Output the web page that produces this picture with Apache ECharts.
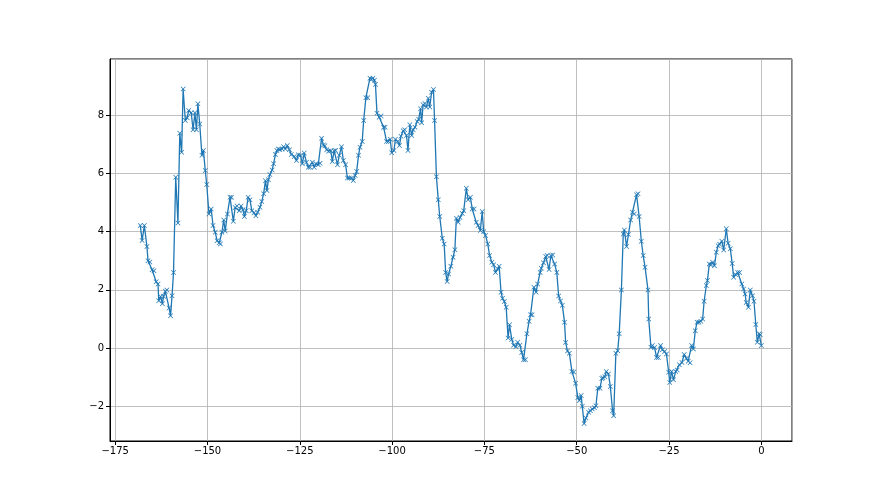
<!DOCTYPE html>
<html>
<head>
<meta charset="utf-8">
<script src="https://cdn.jsdelivr.net/npm/echarts@6/dist/echarts.min.js"></script>
<style>
html,body{margin:0;padding:0;background:#fff;}
#chart{width:880px;height:495px;}
</style>
</head>
<body>
<div id="chart"></div>
<script>
// x positions (time offsets) of the samples
const xValues = [
-168.2,-167.7,-167.1,-166.4,-166.1,-165.6,-165.0,-164.5,-163.9,-163.4,-163.2,-162.7,-162.2,-161.9,-161.4,-161.0,-160.4,-160.0,-159.6,-159.2,
-158.6,-158.0,-157.5,-157.0,-156.6,-156.0,-155.5,-155.1,-154.4,-153.9,-153.4,-153.0,-152.6,-152.1,-151.5,-151.1,-150.6,-150.2,-149.6,-149.0,
-148.5,-147.9,-147.4,-146.8,-146.5,-146.1,-145.6,-145.2,-144.6,-143.9,-143.5,-143.0,-142.5,-142.0,-141.4,-140.9,-140.4,-140.0,-139.5,-139.0,
-138.5,-138.0,-137.4,-136.9,-136.4,-135.8,-135.3,-134.8,-134.3,-133.9,-133.5,-133.1,-132.5,-132.1,-131.6,-131.2,-130.8,-130.4,-129.8,-129.4,
-128.9,-128.4,-127.8,-127.3,-126.5,-125.9,-125.4,-124.8,-124.3,-123.8,-123.2,-122.7,-122.2,-121.6,-121.1,-120.6,-120.0,-119.5,-119.1,-118.6,
-118.2,-117.7,-117.2,-116.6,-116.2,-115.7,-115.3,-114.8,-114.3,-113.7,-113.2,-112.6,-112.1,-111.6,-111.0,-110.5,-110.0,-109.6,-109.1,-108.7,
-108.1,-107.7,-107.1,-106.6,-106.0,-105.6,-105.2,-104.8,-104.5,-104.1,-103.5,-103.0,-102.3,-101.9,-101.5,-101.0,-100.5,-100.1,-99.5,-99.1,
-98.5,-98.0,-97.6,-97.0,-96.6,-96.1,-95.7,-95.2,-94.7,-94.3,-93.8,-93.2,-92.8,-92.3,-92.0,-91.6,-91.1,-90.7,-90.2,-89.8,
-89.3,-88.8,-88.5,-88.0,-87.5,-87.1,-86.4,-85.9,-85.5,-85.1,-84.7,-84.1,-83.5,-83.0,-82.6,-82.1,-81.6,-81.0,-80.6,-79.9,
-79.4,-78.8,-78.3,-77.8,-77.2,-76.7,-76.1,-75.6,-75.2,-74.7,-74.1,-73.6,-73.0,-72.5,-72.0,-71.4,-71.0,-70.5,-70.1,-69.6,
-69.1,-68.6,-68.2,-67.6,-67.1,-66.5,-66.0,-65.4,-64.9,-64.4,-63.9,-63.5,-62.9,-62.5,-62.1,-61.6,-61.0,-60.6,-59.9,-59.6,
-59.0,-58.4,-58.0,-57.5,-57.0,-56.5,-56.0,-55.4,-54.9,-54.4,-53.9,-53.3,-53.0,-52.5,-52.0,-51.3,-50.8,-50.3,-49.7,-49.3,
-48.8,-48.5,-48.0,-47.5,-46.8,-46.3,-45.8,-45.2,-44.8,-44.3,-43.7,-43.2,-42.9,-42.4,-42.0,-41.4,-40.9,-40.3,-40.0,-39.4,
-38.9,-38.5,-37.9,-37.4,-37.1,-36.5,-36.0,-35.4,-34.9,-34.4,-33.8,-33.4,-33.1,-32.5,-32.0,-31.5,-30.7,-30.5,-29.9,-29.5,
-28.9,-28.4,-27.9,-27.3,-26.8,-26.2,-25.7,-25.1,-24.8,-24.3,-23.8,-23.2,-22.8,-22.2,-21.5,-20.9,-20.3,-19.8,-19.3,-18.9,
-18.4,-17.9,-17.4,-16.9,-16.4,-15.9,-15.5,-14.9,-14.6,-14.1,-13.6,-13.2,-12.7,-12.2,-11.7,-11.3,-10.7,-10.2,-9.5,-9.0,
-8.4,-7.9,-7.5,-7.0,-6.4,-5.9,-5.3,-4.8,-4.4,-4.1,-3.5,-3.0,-2.4,-2.0,-1.5,-1.1,-0.6,-0.3,0.0
];
// measured values at those positions
const yValues = [
4.21,3.70,4.21,3.49,3.00,2.96,2.69,2.66,2.28,2.20,1.63,1.77,1.52,1.78,1.95,2.00,1.38,1.11,1.80,2.60,
5.87,4.30,7.38,6.73,8.90,7.82,7.91,8.16,8.08,7.50,8.08,7.50,8.39,7.70,6.62,6.79,6.10,5.62,4.61,4.78,
4.21,3.98,3.69,3.62,3.58,3.98,4.40,4.02,4.61,5.18,5.18,4.36,4.83,4.88,4.72,4.88,4.75,4.52,4.72,5.18,
5.10,4.72,4.65,4.55,4.67,4.84,5.04,5.30,5.75,5.41,5.78,5.96,6.12,6.33,6.65,6.79,6.84,6.82,6.84,6.92,
6.84,6.96,6.81,6.65,6.58,6.44,6.64,6.62,6.33,6.70,6.38,6.21,6.21,6.38,6.21,6.33,6.30,6.35,7.21,6.98,
6.95,6.81,6.76,6.78,6.41,6.78,6.79,6.30,6.62,6.92,6.44,6.30,5.84,5.84,5.84,5.76,5.93,6.07,6.62,6.90,
7.10,7.82,8.60,8.60,9.27,9.23,9.27,9.20,9.05,8.07,7.93,7.97,7.59,7.59,7.10,7.10,7.17,6.71,6.79,7.17,
7.10,6.96,7.28,7.47,7.50,7.30,6.79,7.67,7.30,7.50,7.59,7.78,7.86,8.22,7.74,8.36,8.40,8.28,8.58,8.28,
8.79,8.88,7.82,5.89,5.10,4.52,3.77,3.58,2.60,2.29,2.55,2.81,3.12,3.38,4.46,4.32,4.49,4.62,4.72,5.49,
5.10,5.18,4.78,4.78,4.32,4.21,4.04,4.69,4.00,3.87,3.58,3.18,2.95,2.86,2.60,2.72,2.81,1.92,1.71,1.60,
1.40,0.35,0.80,0.30,0.10,0.05,0.20,0.10,-0.15,-0.40,-0.40,0.49,0.92,1.15,1.15,2.09,1.92,2.20,2.60,2.74,
2.93,3.15,3.18,2.70,3.18,3.20,2.89,2.60,1.79,1.62,1.47,0.89,0.19,-0.10,-0.18,-0.80,-0.82,-1.21,-1.70,-1.80,
-1.63,-2.00,-2.59,-2.40,-2.20,-2.15,-2.09,-2.05,-1.98,-1.38,-1.38,-1.04,-1.02,-0.98,-0.80,-0.89,-1.32,-2.15,-2.32,-0.18,
-0.09,0.49,2.00,3.92,4.06,3.49,3.90,4.40,4.67,4.61,5.27,5.30,4.52,3.67,3.18,2.78,2.00,1.00,0.03,0.09,
0.02,-0.32,-0.32,0.09,-0.06,-0.12,-0.20,-0.83,-1.18,-0.80,-1.09,-0.80,-0.75,-0.57,-0.49,-0.22,-0.35,-0.45,-0.50,0.09,
-0.03,0.60,0.89,0.89,0.92,1.00,1.61,2.15,2.32,2.89,2.86,2.95,2.83,3.29,3.52,3.57,3.67,3.37,4.10,3.60,
3.41,2.91,2.43,2.53,2.60,2.60,2.20,2.03,1.86,1.57,1.40,2.00,1.80,1.61,0.81,0.20,0.49,0.46,0.09
];
const xTickStep = 25;
const yTickStep = 2;

const fmt = v => String(v).replace('-', '\u2212');
const pairs = xValues.map((x, i) => [x, yValues[i]]);
const crossPath = 'path://M0,1L1,0L5,4L9,0L10,1L6,5L10,9L9,10L5,6L1,10L0,9L4,5Z';

const chart = echarts.init(document.getElementById('chart'), null, {renderer: 'canvas'});
chart.setOption({
  animation: false,
  backgroundColor: '#ffffff',
  grid: {
    left: 110, top: 59, width: 682, height: 382,
    show: true, borderColor: '#000000', borderWidth: 1, backgroundColor: 'transparent',
    containLabel: false
  },
  xAxis: {
    type: 'value',
    position: 'bottom',
    min: -176.4, max: 8.3,
    minInterval: xTickStep, maxInterval: xTickStep,
    axisLine: {show: true, onZero: false, lineStyle: {color: '#000', width: 1}},
    axisTick: {show: true, inside: false, length: 4, lineStyle: {color: '#000', width: 1}},
    axisLabel: {
      show: true, margin: 5, color: '#000', fontSize: 10, fontFamily: 'DejaVu Sans',
      showMinLabel: false, showMaxLabel: false, formatter: fmt
    },
    splitLine: {show: true, lineStyle: {color: '#b0b0b0', width: 0.8}}
  },
  yAxis: {
    type: 'value',
    position: 'left',
    min: -3.19, max: 9.93,
    minInterval: yTickStep, maxInterval: yTickStep,
    axisLine: {show: true, onZero: false, lineStyle: {color: '#000', width: 1}},
    axisTick: {show: true, inside: false, length: 4, lineStyle: {color: '#000', width: 1}},
    axisLabel: {
      show: true, margin: 6, color: '#000', fontSize: 10, fontFamily: 'DejaVu Sans',
      showMinLabel: false, showMaxLabel: false, formatter: fmt
    },
    splitLine: {show: true, lineStyle: {color: '#b0b0b0', width: 0.8}}
  },
  series: [{
    type: 'line',
    data: pairs,
    showSymbol: true,
    showAllSymbol: true,
    symbol: crossPath,
    symbolSize: 5,
    lineStyle: {color: '#1f77b4', width: 1.3},
    itemStyle: {color: '#1f77b4'},
    emphasis: {disabled: true},
    z: 3
  }]
});
</script>
</body>
</html>
